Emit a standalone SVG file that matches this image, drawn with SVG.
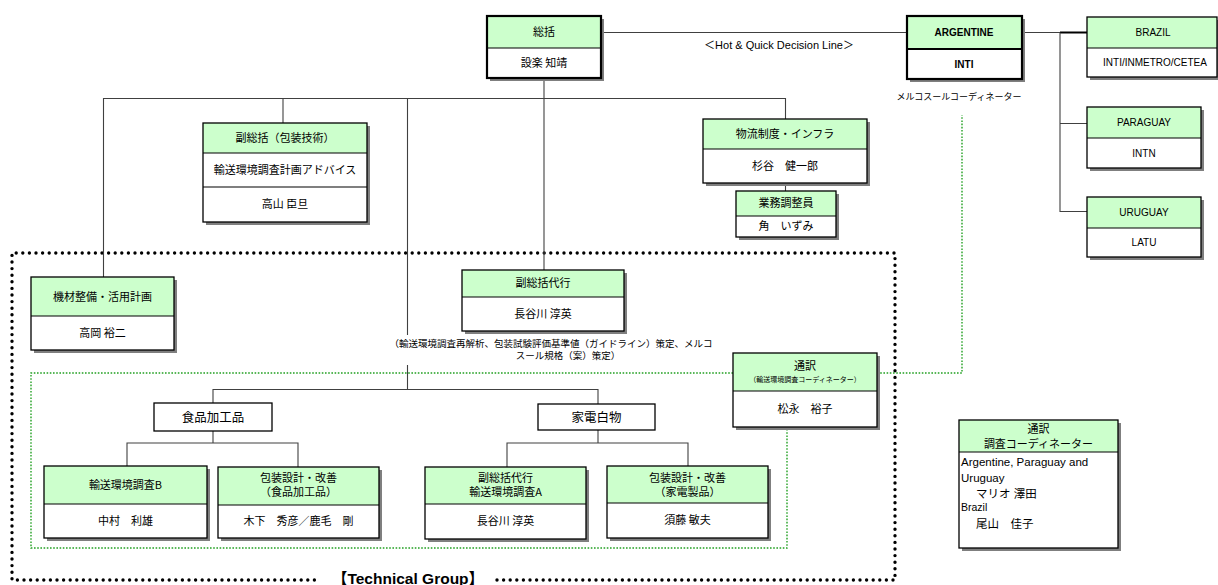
<svg xmlns="http://www.w3.org/2000/svg" width="1218" height="585" viewBox="0 0 1218 585">
  <style>
    .sh { fill: #7f7f7f; }
    .hd { fill: #ccffcc; }
    .bd { fill: #ffffff; }
    .fr { fill: none; stroke: #000; stroke-width: 1.3; }
    .fr2 { fill: none; stroke: #000; stroke-width: 2.2; }
    .dv { stroke: #000; stroke-width: 1.2; }
    .ln { fill: none; stroke: #404040; stroke-width: 1.1; }
    .ln2 { fill: none; stroke: #000; stroke-width: 2; }
    .grp { fill: none; stroke: #000; stroke-width: 3.4; stroke-linecap: round; stroke-dasharray: 0 6.6; }
    .gd { fill: none; stroke: #22a022; stroke-width: 1.4; stroke-dasharray: 1.6 1.6; }
    .j { font-family: "Noto Sans CJK JP", sans-serif; font-size: 11px; text-anchor: middle; fill: #000; }
    .e { font-family: "Liberation Sans", "Noto Sans CJK JP", sans-serif; font-size: 10px; text-anchor: middle; fill: #000; }
    .eb { font-family: "Liberation Sans", sans-serif; font-size: 10px; font-weight: bold; text-anchor: middle; fill: #000; }
    .s { font-family: "Noto Sans CJK JP", sans-serif; font-size: 9.5px; text-anchor: middle; fill: #000; }
    .l { font-family: "Liberation Sans", "Noto Sans CJK JP", sans-serif; font-size: 11.5px; fill: #000; }
    .tiny { font-size: 7px; }
    .big { font-size: 12.5px; }
    .sm { font-size: 10.5px; }
  </style>

  <!-- group frames -->
  <g id="frames">
    <path class="grp" d="M497,580 H895 V253 H12 V580 H320"/>
    <path class="gd" d="M733,373 H31 V548 H787 V427"/>
    <path class="gd" d="M877,373 H962 V115"/>
    <text x="408" y="584" font-family="Liberation Sans, Noto Sans CJK JP, sans-serif" font-size="15.5" font-weight="bold" text-anchor="middle">【Technical Group】</text>
  </g>

  <!-- connectors -->
  <g id="connectors">
    <path class="ln" d="M601,32.5 H907"/>
    <path class="ln" d="M1022,32.5 H1060"/>
    <path class="ln2" d="M1060,32.5 H1087"/>
    <path class="ln" d="M1060,32.5 V211.5 H1087 M1060,123.5 H1087"/>
    <path class="ln" d="M544,78 V270"/>
    <path class="ln" d="M103.5,277 V98.5 H785.5 V119"/>
    <path class="ln" d="M283,98.5 V123"/>
    <path class="ln" d="M785.5,183 V191"/>
    <path class="ln" d="M407.5,98.5 V335 M407.5,365 V389.5"/>
    <path class="ln" d="M213,403 V389.5 H598 V404"/>
    <path class="ln" d="M213,431 V443 M127,466 V443 H298 V467"/>
    <path class="ln" d="M598,430 V443 M507,467 V443 H688 V466"/>
  </g>

  <g id="note-hotline">
    <text class="e" x="779" y="49" style="font-size:11px">＜Hot &amp; Quick Decision Line＞</text>
  </g>
  <g id="note-mercosur">
    <text class="s" x="959" y="100" style="font-size:9px">メルコスールコーディネーター</text>
  </g>
  <g id="note-tasks">
    <text class="s" x="551" y="347">（輸送環境調査再解析、包装試験評価基準値（ガイドライン）策定、メルコ</text>
    <text class="s" x="568" y="359">スール規格（案）策定）</text>
  </g>

  <!-- 総括 -->
  <g id="n-soukatsu">
    <rect class="sh" x="490" y="19" width="114" height="62"/>
    <rect class="hd" x="487" y="16" width="114" height="32"/>
    <rect class="bd" x="487" y="48" width="114" height="30"/>
    <line class="dv" x1="487" y1="48" x2="601" y2="48"/>
    <rect class="fr2" x="487" y="16" width="114" height="62"/>
    <text class="j" x="544" y="36">総括</text>
    <text class="j" x="544" y="67">設楽 知靖</text>
  </g>

  <!-- ARGENTINE -->
  <g id="n-argentine">
    <rect class="sh" x="910" y="19" width="115" height="63"/>
    <rect class="hd" x="907" y="16" width="115" height="33"/>
    <rect class="bd" x="907" y="49" width="115" height="30"/>
    <line class="fr2" x1="907" y1="49" x2="1022" y2="49"/>
    <rect class="fr2" x="907" y="16" width="115" height="63"/>
    <text class="eb" x="964" y="36">ARGENTINE</text>
    <text class="eb" x="964" y="68">INTI</text>
  </g>

  <!-- BRAZIL -->
  <g id="n-brazil">
    <rect class="sh" x="1090" y="20" width="130" height="60"/>
    <rect class="hd" x="1087" y="17" width="130" height="31"/>
    <rect class="bd" x="1087" y="48" width="130" height="29"/>
    <line class="dv" x1="1087" y1="48" x2="1217" y2="48"/>
    <rect class="fr" x="1087" y="17" width="130" height="60"/>
    <text class="e" x="1153" y="36">BRAZIL</text>
    <text class="e" x="1155" y="66">INTI/INMETRO/CETEA</text>
  </g>

  <!-- PARAGUAY -->
  <g id="n-paraguay">
    <rect class="sh" x="1090" y="110" width="114" height="61"/>
    <rect class="hd" x="1087" y="107" width="114" height="31"/>
    <rect class="bd" x="1087" y="138" width="114" height="30"/>
    <line class="dv" x1="1087" y1="138" x2="1201" y2="138"/>
    <rect class="fr" x="1087" y="107" width="114" height="61"/>
    <text class="e" x="1144" y="126">PARAGUAY</text>
    <text class="e" x="1144" y="157">INTN</text>
  </g>

  <!-- URUGUAY -->
  <g id="n-uruguay">
    <rect class="sh" x="1090" y="200" width="114" height="60"/>
    <rect class="hd" x="1087" y="197" width="114" height="31"/>
    <rect class="bd" x="1087" y="228" width="114" height="29"/>
    <line class="dv" x1="1087" y1="228" x2="1201" y2="228"/>
    <rect class="fr" x="1087" y="197" width="114" height="60"/>
    <text class="e" x="1144" y="216">URUGUAY</text>
    <text class="e" x="1144" y="246">LATU</text>
  </g>

  <!-- 副総括（包装技術） -->
  <g id="n-fukusoukatsu">
    <rect class="sh" x="206" y="126" width="164" height="99"/>
    <rect class="hd" x="203" y="123" width="164" height="30"/>
    <rect class="bd" x="203" y="153" width="164" height="69"/>
    <line class="dv" x1="203" y1="153" x2="367" y2="153"/>
    <line class="dv" x1="203" y1="187" x2="367" y2="187"/>
    <rect class="fr" x="203" y="123" width="164" height="99"/>
    <text class="j" x="285" y="142">副総括（包装技術）</text>
    <text class="j" x="285" y="174">輸送環境調査計画アドバイス</text>
    <text class="j" x="285" y="208">高山 臣旦</text>
  </g>

  <!-- 物流制度・インフラ -->
  <g id="n-butsuryu">
    <rect class="sh" x="706" y="122" width="164" height="64"/>
    <rect class="hd" x="703" y="119" width="164" height="30"/>
    <rect class="bd" x="703" y="149" width="164" height="34"/>
    <line class="dv" x1="703" y1="149" x2="867" y2="149"/>
    <rect class="fr" x="703" y="119" width="164" height="64"/>
    <text class="j" x="785" y="138">物流制度・インフラ</text>
    <text class="j" x="785" y="170">杉谷　健一郎</text>
  </g>

  <!-- 業務調整員 -->
  <g id="n-gyomu">
    <rect class="sh" x="739" y="194" width="100" height="46"/>
    <rect class="hd" x="736" y="191" width="100" height="25"/>
    <rect class="bd" x="736" y="216" width="100" height="21"/>
    <line class="dv" x1="736" y1="216" x2="836" y2="216"/>
    <rect class="fr" x="736" y="191" width="100" height="46"/>
    <text class="j" x="786" y="207">業務調整員</text>
    <text class="j" x="786" y="230">角　いずみ</text>
  </g>

  <!-- 機材整備・活用計画 -->
  <g id="n-kizai">
    <rect class="sh" x="34" y="280" width="143" height="73"/>
    <rect class="hd" x="31" y="277" width="143" height="39"/>
    <rect class="bd" x="31" y="316" width="143" height="34"/>
    <line class="dv" x1="31" y1="316" x2="174" y2="316"/>
    <rect class="fr" x="31" y="277" width="143" height="73"/>
    <text class="j" x="102.5" y="301">機材整備・活用計画</text>
    <text class="j" x="102.5" y="337">高岡 裕二</text>
  </g>

  <!-- 副総括代行 -->
  <g id="n-dairi">
    <rect class="sh" x="465" y="273" width="162" height="61"/>
    <rect class="hd" x="462" y="270" width="162" height="27"/>
    <rect class="bd" x="462" y="297" width="162" height="34"/>
    <line class="dv" x1="462" y1="297" x2="624" y2="297"/>
    <rect class="fr" x="462" y="270" width="162" height="61"/>
    <text class="j" x="543" y="287">副総括代行</text>
    <text class="j" x="543" y="318">長谷川 淳英</text>
  </g>

  <!-- 通訳（輸送環境調査コーディネーター） -->
  <g id="n-tsuyaku1">
    <rect class="sh" x="736" y="356" width="144" height="74"/>
    <rect class="hd" x="733" y="353" width="144" height="38"/>
    <rect class="bd" x="733" y="391" width="144" height="36"/>
    <line class="dv" x1="733" y1="391" x2="877" y2="391"/>
    <rect class="fr" x="733" y="353" width="144" height="74"/>
    <text class="j" x="805" y="370">通訳</text>
    <text class="j tiny" x="805" y="382">（輸送環境調査コーディネーター）</text>
    <text class="j" x="805" y="413">松永　裕子</text>
  </g>

  <!-- 食品加工品 -->
  <g id="n-shokuhin">
    <rect class="bd" x="154" y="403" width="118" height="28"/>
    <rect class="fr" x="154" y="403" width="118" height="28"/>
    <text class="j big" x="213" y="422">食品加工品</text>
  </g>

  <!-- 家電白物 -->
  <g id="n-kaden">
    <rect class="bd" x="538" y="404" width="117" height="26"/>
    <rect class="fr" x="538" y="404" width="117" height="26"/>
    <text class="j big" x="596.5" y="422">家電白物</text>
  </g>

  <!-- 輸送環境調査B -->
  <g id="n-chosa-b">
    <rect class="sh" x="47" y="469" width="163" height="72"/>
    <rect class="hd" x="44" y="466" width="163" height="38"/>
    <rect class="bd" x="44" y="504" width="163" height="34"/>
    <line class="dv" x1="44" y1="504" x2="207" y2="504"/>
    <rect class="fr" x="44" y="466" width="163" height="72"/>
    <text class="j" x="125.5" y="489">輸送環境調査B</text>
    <text class="j" x="125.5" y="525">中村　利雄</text>
  </g>

  <!-- 包装設計・改善（食品加工品） -->
  <g id="n-hoso-shokuhin">
    <rect class="sh" x="221" y="470" width="161" height="71"/>
    <rect class="hd" x="218" y="467" width="161" height="38"/>
    <rect class="bd" x="218" y="505" width="161" height="33"/>
    <line class="dv" x1="218" y1="505" x2="379" y2="505"/>
    <rect class="fr" x="218" y="467" width="161" height="71"/>
    <text class="j" x="298.5" y="482">包装設計・改善</text>
    <text class="j" x="298.5" y="496">（食品加工品）</text>
    <text class="j" x="298.5" y="525">木下　秀彦／鹿毛　剛</text>
  </g>

  <!-- 副総括代行 輸送環境調査A -->
  <g id="n-chosa-a">
    <rect class="sh" x="428" y="470" width="161" height="72"/>
    <rect class="hd" x="425" y="467" width="161" height="37"/>
    <rect class="bd" x="425" y="504" width="161" height="35"/>
    <line class="dv" x1="425" y1="504" x2="586" y2="504"/>
    <rect class="fr" x="425" y="467" width="161" height="72"/>
    <text class="j" x="505.5" y="482">副総括代行</text>
    <text class="j" x="505.5" y="496">輸送環境調査A</text>
    <text class="j" x="505.5" y="525">長谷川 淳英</text>
  </g>

  <!-- 包装設計・改善（家電製品） -->
  <g id="n-hoso-kaden">
    <rect class="sh" x="610" y="469" width="161" height="72"/>
    <rect class="hd" x="607" y="466" width="161" height="37"/>
    <rect class="bd" x="607" y="503" width="161" height="35"/>
    <line class="dv" x1="607" y1="503" x2="768" y2="503"/>
    <rect class="fr" x="607" y="466" width="161" height="72"/>
    <text class="j" x="687.5" y="482">包装設計・改善</text>
    <text class="j" x="687.5" y="496">（家電製品）</text>
    <text class="j" x="687.5" y="524">須藤 敏夫</text>
  </g>

  <!-- 通訳 調査コーディネーター -->
  <g id="n-tsuyaku2">
    <rect class="sh" x="962" y="423" width="159" height="128"/>
    <rect class="hd" x="959" y="420" width="159" height="32"/>
    <rect class="bd" x="959" y="452" width="159" height="96"/>
    <line class="dv" x1="959" y1="452" x2="1118" y2="452"/>
    <rect class="fr" x="959" y="420" width="159" height="128"/>
    <text class="j" x="1038.5" y="433">通訳</text>
    <text class="j" x="1038.5" y="448">調査コーディネーター</text>
    <text class="l" x="961" y="466">Argentine, Paraguay and</text>
    <text class="l" x="961" y="482">Uruguay</text>
    <text class="l" x="976" y="498">マリオ 澤田</text>
    <text class="l sm" x="961" y="511">Brazil</text>
    <text class="l" x="976" y="528">尾山　佳子</text>
  </g>
</svg>
